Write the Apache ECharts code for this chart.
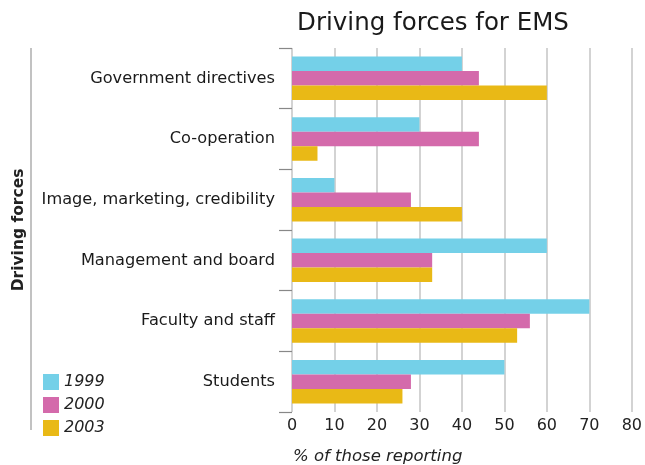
<!DOCTYPE html>
<html><head><meta charset="utf-8">
<script src="https://cdn.jsdelivr.net/npm/echarts@6/dist/echarts.min.js"></script>
<style>html,body{margin:0;padding:0;background:#fff}#c{width:645px;height:465px}</style>
</head><body><div id="c"></div>
<script>
const categories = ['Government directives','Co-operation','Image, marketing, credibility','Management and board','Faculty and staff','Students'];
const years = ['1999','2000','2003'];
const v1999 = [40, 30, 10, 60, 70, 50];
const v2000 = [44, 44, 28, 33, 56, 28];
const v2003 = [60, 6, 40, 33, 53, 26];
const xTicks = [0,10,20,30,40,50,60,70,80];
const colors = ['#74d0e8','#d46aab','#e9b916'];
const font = 'DejaVu Sans';
const chart = echarts.init(document.getElementById('c'), null, {renderer:'canvas'});
const vals = [v1999, v2000, v2003];
chart.setOption({
  animation:false,
  title:[
    {text:'Driving forces for EMS', left:428, textAlign:'center', top:6,
     textStyle:{fontFamily:font, fontSize:24.5, fontWeight:'normal', color:'#1a1a1a'}},
    {text:'% of those reporting', left:288, top:443,
     textStyle:{fontFamily:font, fontSize:16.5, fontStyle:'italic', fontWeight:'normal', color:'#222'}}
  ],
  legend:{orient:'vertical', left:38, top:369, itemWidth:16, itemHeight:16, itemGap:7,
    icon:'rect', data:years,
    textStyle:{fontFamily:font, fontSize:16, fontStyle:'italic', color:'#222'}},
  grid:{left:292, right:12, top:48, bottom:53, containLabel:false},
  xAxis:{type:'value', min:0, max:80, interval:10,
    axisLine:{show:false}, axisTick:{show:false},
    axisLabel:{fontFamily:font, fontSize:16, color:'#222', margin:6,
      formatter:v=>xTicks.includes(v)?String(v):''},
    splitLine:{show:true, lineStyle:{color:'#c4c4c4', width:1.5}}},
  yAxis:{type:'category', data:categories, inverse:true,
    name:'Driving forces', nameLocation:'middle', nameGap:265, nameRotate:90,
    nameTextStyle:{fontFamily:font, fontSize:15.5, fontWeight:'bold', color:'#222'},
    axisLine:{show:false},
    axisTick:{show:true, length:13, lineStyle:{color:'#888', width:1.2}},
    axisLabel:{fontFamily:font, fontSize:16.2, color:'#1a1a1a', margin:17}},
  graphic:[{type:'line', shape:{x1:31, y1:48, x2:31, y2:430}, style:{stroke:'#999', lineWidth:1.2}}],
  series: years.map((y,i)=>({name:y, type:'bar', data:vals[i], barWidth:14.5, barGap:'0%',
    itemStyle:{color:colors[i]}}))
});
</script></body></html>
